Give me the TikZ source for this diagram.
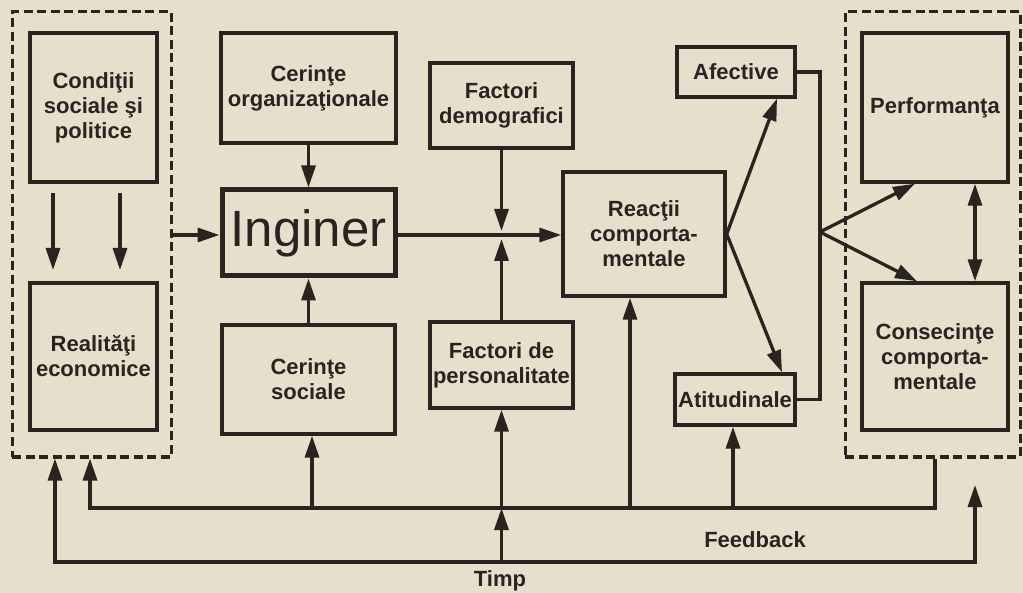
\documentclass[tikz,border=0pt]{standalone}
\usepackage{fontspec}
\setmainfont{Liberation Sans}
\usetikzlibrary{arrows.meta}
\definecolor{paper}{HTML}{E6DFCB}
\definecolor{ink}{HTML}{2A2421}
\begin{document}
\begin{tikzpicture}[x=1pt,y=-1pt,
  box/.style={draw=ink, line width=3.4pt, fill=paper, text=ink, align=center, inner sep=1pt, font=\fontsize{22}{25}\selectfont\bfseries},
  dbox/.style={draw=ink, line width=3pt, dash pattern=on 9pt off 4.5pt, inner sep=0pt},
  tip/.tip={Triangle[length=22pt,width=14pt]},
  ln/.style={draw=ink, line width=3.3pt},
  arr/.style={ln, -tip},
  darr/.style={ln, tip-tip},
  lbl/.style={text=ink, font=\fontsize{22}{25}\selectfont\bfseries}]
\fill[paper] (0,0) rectangle (1023,593);
\useasboundingbox (0,0) rectangle (1023,593);

% dashed groups
\node[dbox, minimum width=159pt, minimum height=445pt] (ld) at (91.5,234.5) {};
\node[dbox, minimum width=175pt, minimum height=445pt] (rd) at (932.5,234.5) {};

% boxes
\node[box, minimum width=127pt, minimum height=149pt] (cond) at (93.5,107.5) {Condiţii\\sociale şi\\politice};
\node[box, minimum width=127pt, minimum height=147pt] (real) at (93.5,356.5) {Realităţi\\economice};
\node[box, minimum width=175pt, minimum height=110pt] (org) at (308.5,88) {Cerinţe\\organizaţionale};
\node[box, line width=5pt, minimum width=173pt, minimum height=86pt, font=\fontsize{51}{55}\selectfont] (ing) at (308.5,233) {Inginer};
\node[box, minimum width=173pt, minimum height=109pt] (soc) at (308.5,379.5) {Cerinţe\\sociale};
\node[box, minimum width=143pt, minimum height=85pt] (dem) at (501.5,105.5) {Factori\\demografici};
\node[box, minimum width=143pt, minimum height=86pt] (pers) at (501.5,365) {Factori de\\personalitate};
\node[box, minimum width=162pt, minimum height=124pt] (reac) at (644,234) {Reacţii\\comporta-\\mentale};
\node[box, minimum width=118pt, minimum height=50pt] (afe) at (736,72) {Afective};
\node[box, minimum width=120pt, minimum height=51pt] (ati) at (735,399.5) {Atitudinale};
\node[box, minimum width=146pt, minimum height=149pt] (perf) at (935,107.5) {Performanţa};
\node[box, minimum width=146pt, minimum height=147pt] (cons) at (935,356.5) {Consecinţe\\comporta-\\mentale};

% coordinates
\coordinate (jn) at (501.5,235);
\coordinate (a1s) at (53,193);
\coordinate (a1e) at (53,270);
\coordinate (a2s) at (120,193);
\coordinate (a2e) at (120,270);
\coordinate (brX) at (820,232);
\coordinate (fbmid) at (501.5,508);
\coordinate (fb1) at (312,508);
\coordinate (fb2) at (630,508);
\coordinate (fb3) at (733,508);
\coordinate (tmid) at (501.5,562);
\coordinate (timpR) at (975,485);

% left group
\draw[arr] (a1s) -- (a1e);
\draw[arr] (a2s) -- (a2e);
\draw[arr] (ld.east |- jn) -- (ing.west |- jn);

% centre
\draw[arr] (org.south) -- (ing.north);
\draw[arr] (soc.north) -- (ing.south);
\draw[arr] (ing.east |- jn) -- (reac.west |- jn);
\draw[arr, shorten >=4pt] (dem.south) -- (jn);
\draw[arr, shorten >=4pt] (pers.north) -- (jn);

% reactions
\draw[arr] (reac.east) -- ([xshift=41pt]afe.south);
\draw[arr] (reac.east) -- ([xshift=47pt]ati.north);
\draw[ln] (afe.east) -| (brX) |- (ati.east);
\draw[arr] (brX) -- ([xshift=-20pt]perf.south);
\draw[arr] (brX) -- ([xshift=-18pt]cons.north);
\draw[darr] ([xshift=40pt]perf.south) -- ([xshift=40pt]cons.north);

% feedback loop
\draw[arr] ([xshift=2.5pt]rd.south) |- (fbmid) -| ([xshift=-1.5pt]ld.south);
\draw[arr] (fb1) -- (soc.south -| fb1);
\draw[arr] (fbmid) -- (pers.south);
\draw[arr] (fb2) -- (reac.south -| fb2);
\draw[arr] (fb3) -- (ati.south -| fb3);

% time loop
\draw[darr] ([xshift=-36.5pt]ld.south) |- (tmid) -| (timpR);
\draw[arr] (tmid) -- (fbmid);

% labels
\node[lbl] (timp) at (500,581) {Timp};
\node[lbl] (fb) at (755,540) {Feedback};
\end{tikzpicture}
\end{document}
